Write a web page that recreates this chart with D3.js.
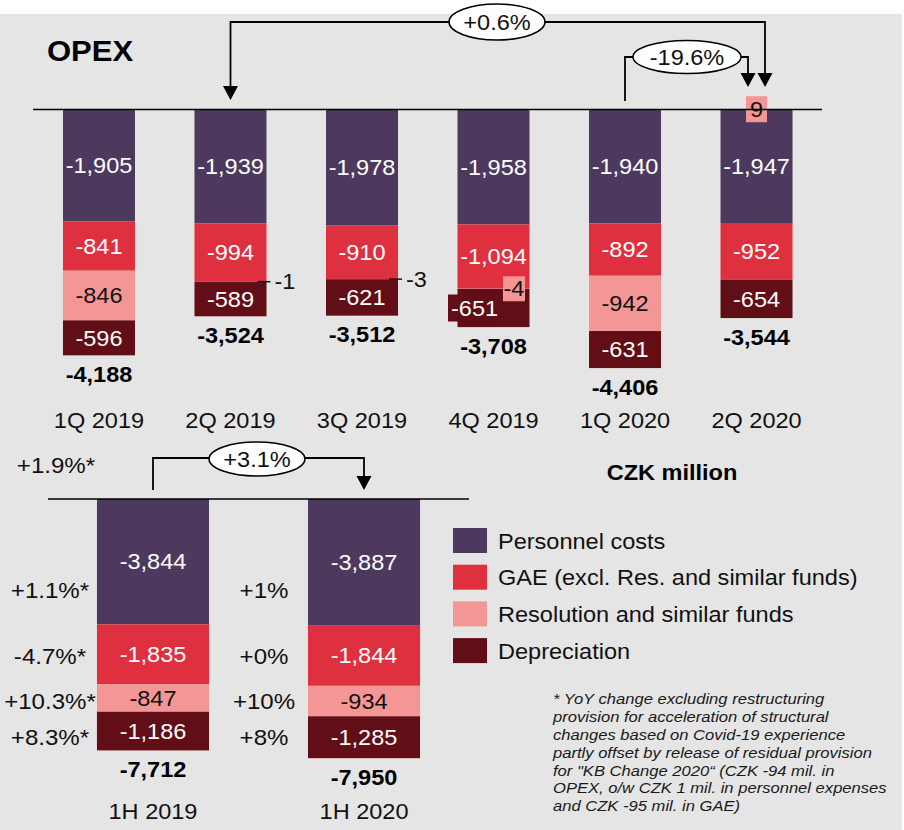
<!DOCTYPE html>
<html>
<head>
<meta charset="utf-8">
<script src="https://cdn.jsdelivr.net/npm/d3@7"></script>
<style>
  html, body { margin: 0; padding: 0; background: #fff; }
  svg { display: block; font-family: "Liberation Sans", Arial, sans-serif; }
</style>
</head>
<body>
<svg id="chart" width="904" height="830"></svg>
<script>
// ---- Quarterly OPEX (CZK million) ----
const quarters       = ["1Q 2019", "2Q 2019", "3Q 2019", "4Q 2019", "1Q 2020", "2Q 2020"];
const personnelQ     = [-1905, -1939, -1978, -1958, -1940, -1947];
const gaeQ           = [-841, -994, -910, -1094, -892, -952];
const resolutionQ    = [-846, -1, -3, -4, -942, 9];
const depreciationQ  = [-596, -589, -621, -651, -631, -654];
const totalsQ        = [-4188, -3524, -3512, -3708, -4406, -3544];

// ---- Half-year OPEX ----
const halves         = ["1H 2019", "1H 2020"];
const personnelH     = [-3844, -3887];
const gaeH           = [-1835, -1844];
const resolutionH    = [-847, -934];
const depreciationH  = [-1186, -1285];
const totalsH        = [-7712, -7950];

// ---- YoY changes ----
const yoyQuarter      = "+0.6%";     // 2Q 2019 -> 2Q 2020
const qoqQuarter      = "-19.6%";    // 1Q 2020 -> 2Q 2020
const yoyHalf         = "+3.1%";
const yoyHalfAdjTotal = "+1.9%*";
const yoyHalfAdj      = ["+1.1%*", "-4.7%*", "+10.3%*", "+8.3%*"];
const yoyHalfSeg      = ["+1%", "+0%", "+10%", "+8%"];

const seriesNames = ["Personnel costs", "GAE (excl. Res. and similar funds)", "Resolution and similar funds", "Depreciation"];
const footnote = [
  "* YoY change excluding restructuring",
  "provision for acceleration of structural",
  "changes based on Covid-19 experience",
  "partly offset by release of residual provision",
  "for \"KB Change 2020\u201C (CZK -94 mil. in",
  "OPEX, o/w CZK 1 mil. in personnel expenses",
  "and CZK -95 mil. in GAE)"
];

// ---- styling ----
const keys = ["personnel", "gae", "resolution", "depreciation"];
const colors = { personnel: "#4d395e", gae: "#df3040", resolution: "#f59696", depreciation: "#610e16" };
const labelColors = { personnel: "#fff", gae: "#fff", resolution: "#111", depreciation: "#fff" };
const SX = 1.07; // slight horizontal text widening
const fmt = d3.formatLocale({ decimal: ".", thousands: ",", grouping: [3], currency: ["", ""], minus: "-" }).format(",");

const svg = d3.select("#chart");
svg.append("rect").attr("x", 0).attr("y", 14).attr("width", 902).attr("height", 816).attr("fill", "#e5e5e5");

function label(g, x, y, str, o = {}) {
  return g.append("text")
    .attr("transform", `translate(${x},${y}) scale(${SX},1)`)
    .attr("dy", "0.35em")
    .attr("text-anchor", o.anchor || "middle")
    .attr("font-size", o.size || 22)
    .attr("font-weight", o.weight || "normal")
    .attr("font-style", o.style || "normal")
    .attr("fill", o.fill || "#111")
    .text(str);
}

function arrowHead(g, x, tipY) {
  g.append("path")
    .attr("d", `M${x - 7.5},${tipY - 14}L${x + 7.5},${tipY - 14}L${x},${tipY}Z`)
    .attr("fill", "#000");
}

function bubble(g, cx, cy, rx, ry, str) {
  g.append("ellipse").attr("cx", cx).attr("cy", cy).attr("rx", rx).attr("ry", ry)
    .attr("fill", "#fff").attr("stroke", "#000").attr("stroke-width", 1.5);
  label(g, cx, cy, str);
}

const stack = d3.stack().keys(keys).offset(d3.stackOffsetDiverging);

// ================= quarterly chart =================
const qRows = quarters.map((c, i) => ({ cat: c, personnel: personnelQ[i], gae: gaeQ[i], resolution: resolutionQ[i], depreciation: depreciationQ[i] }));
const xQ = d3.scaleBand().domain(quarters).range([33, 822.5]).paddingInner(0.4525).paddingOuter(0.228);
const yQ = d3.scaleLinear().domain([0, -4500]).range([109.5, 109.5 + 4500 * 0.0587]);
const gQ = svg.append("g");

label(gQ, 47, 51, "OPEX", { anchor: "start", size: 29, weight: "bold", fill: "#000" });

const qSeries = stack(qRows);
gQ.selectAll("g.series").data(qSeries).join("g").attr("class", "series")
  .attr("fill", s => colors[s.key])
  .selectAll("rect").data(s => s).join("rect")
  .attr("x", d => xQ(d.data.cat))
  .attr("width", xQ.bandwidth())
  .attr("y", d => yQ(Math.max(d[0], d[1])))
  .attr("height", d => Math.abs(yQ(d[0]) - yQ(d[1])));

qSeries.forEach(s => {
  s.forEach((d, i) => {
    const v = d.data[s.key];
    const cx = xQ(d.data.cat) + xQ.bandwidth() / 2;
    const right = xQ(d.data.cat) + xQ.bandwidth();
    const cy = (yQ(d[0]) + yQ(d[1])) / 2;
    if (Math.abs(v) < 20) {
      if (v > 0) {
        // released provision: boxed label on the axis line
        gQ.append("rect").attr("x", cx - 10.5).attr("y", cy - 13).attr("width", 21).attr("height", 26).attr("fill", colors.resolution);
        label(gQ, cx, cy, fmt(v), { fill: "#111" });
      } else if (d.data.cat === "4Q 2019") {
        gQ.append("rect").attr("x", cx + 9.5).attr("y", cy - 12.5).attr("width", 22).attr("height", 25).attr("fill", colors.resolution);
        label(gQ, cx + 20.5, cy, fmt(v), { fill: "#111" });
      } else {
        gQ.append("line").attr("x1", right - 9).attr("x2", right + 4).attr("y1", cy).attr("y2", cy)
          .attr("stroke", "#111").attr("stroke-width", 1.5);
        label(gQ, right + 8, cy, fmt(v), { anchor: "start", fill: "#111" });
      }
    } else if (s.key === "depreciation" && d.data.cat === "4Q 2019") {
      gQ.append("rect").attr("x", cx - 45.5).attr("y", cy - 13.5).attr("width", 52).attr("height", 27).attr("fill", colors.depreciation);
      label(gQ, cx - 19, cy, fmt(v), { fill: "#fff" });
    } else {
      label(gQ, cx, cy, fmt(v), { fill: labelColors[s.key] });
    }
  });
});

// totals and category labels
quarters.forEach((c, i) => {
  const cx = xQ(c) + xQ.bandwidth() / 2;
  const bottom = yQ(d3.sum(keys, k => Math.min(0, qRows[i][k])));
  label(gQ, cx, bottom + 19, fmt(totalsQ[i]), { weight: "bold", fill: "#000" });
  label(gQ, cx, 420, c, { fill: "#111" });
});

gQ.append("line").attr("x1", 33).attr("x2", 822).attr("y1", yQ(0)).attr("y2", yQ(0)).attr("stroke", "#000").attr("stroke-width", 1.5);

// change brackets
{
  const c2q19 = xQ("2Q 2019") + xQ.bandwidth() / 2;
  const c1q20 = xQ("1Q 2020") + xQ.bandwidth() / 2;
  const c2q20 = xQ("2Q 2020") + xQ.bandwidth() / 2;
  const bracket = (pts) => gQ.append("path").attr("d", d3.line()(pts)).attr("fill", "none").attr("stroke", "#000").attr("stroke-width", 1.8);
  bracket([[c2q19, 88], [c2q19, 22], [c2q20 + 8.5, 22], [c2q20 + 8.5, 75]]);
  arrowHead(gQ, c2q19, 100);
  arrowHead(gQ, c2q20 + 8.5, 87);
  bracket([[c1q20, 101], [c1q20, 57], [c2q20 - 8.5, 57], [c2q20 - 8.5, 75]]);
  arrowHead(gQ, c2q20 - 8.5, 87);
  bubble(gQ, 497, 22, 48, 18, yoyQuarter);
  bubble(gQ, 687, 57, 54, 16.5, qoqQuarter);
}

// ================= half-year chart =================
const hRows = halves.map((c, i) => ({ cat: c, personnel: personnelH[i], gae: gaeH[i], resolution: resolutionH[i], depreciation: depreciationH[i] }));
const xH = d3.scaleBand().domain(halves).range([48, 469]).paddingInner(0.469).paddingOuter(0.232);
const yH = d3.scaleLinear().domain([0, -8000]).range([499, 499 + 8000 * 0.0326]);
const gH = svg.append("g");

const hSeries = stack(hRows);
gH.selectAll("g.series").data(hSeries).join("g").attr("class", "series")
  .attr("fill", s => colors[s.key])
  .selectAll("rect").data(s => s).join("rect")
  .attr("x", d => xH(d.data.cat))
  .attr("width", xH.bandwidth())
  .attr("y", d => yH(Math.max(d[0], d[1])))
  .attr("height", d => Math.abs(yH(d[0]) - yH(d[1])));

hSeries.forEach(s => {
  s.forEach(d => {
    const cx = xH(d.data.cat) + xH.bandwidth() / 2;
    const cy = (yH(d[0]) + yH(d[1])) / 2;
    label(gH, cx, cy, fmt(d.data[s.key]), { fill: labelColors[s.key] });
  });
});

halves.forEach((c, i) => {
  const cx = xH(c) + xH.bandwidth() / 2;
  const bottom = yH(d3.sum(keys, k => Math.min(0, hRows[i][k])));
  label(gH, cx, bottom + 19, fmt(totalsH[i]), { weight: "bold", fill: "#000" });
  label(gH, cx, 811, c, { fill: "#111" });
});

// YoY labels per component, aligned with the 1H 2020 segments
hSeries.forEach((s, k) => {
  const d = s[1];
  const cy = (yH(d[0]) + yH(d[1])) / 2 + (k === 0 ? 28 : 0);
  label(gH, 50, cy, yoyHalfAdj[k], { size: 22.5 });
  label(gH, 264, cy, yoyHalfSeg[k], { size: 22.5 });
});
label(gH, 56, 465, yoyHalfAdjTotal, { size: 22.5 });

gH.append("line").attr("x1", 48).attr("x2", 469).attr("y1", yH(0)).attr("y2", yH(0)).attr("stroke", "#000").attr("stroke-width", 1.5);
{
  const c1 = xH("1H 2019") + xH.bandwidth() / 2;
  const c2 = xH("1H 2020") + xH.bandwidth() / 2;
  gH.append("path").attr("d", d3.line()([[c1, 490], [c1, 458], [c2, 458], [c2, 478]]))
    .attr("fill", "none").attr("stroke", "#000").attr("stroke-width", 1.8);
  arrowHead(gH, c2, 490);
  bubble(gH, 257, 459, 48, 17, yoyHalf);
}

// ================= legend, unit, footnote =================
label(svg, 672, 472, "CZK million", { weight: "bold", fill: "#000" });

const legend = svg.append("g");
keys.forEach((k, i) => {
  const y = 528 + i * 36.7;
  legend.append("rect").attr("x", 453).attr("y", y).attr("width", 34).attr("height", 25).attr("fill", colors[k]);
  label(legend, 498, y + 13, seriesNames[i], { anchor: "start", fill: "#111" });
});

footnote.forEach((line, i) => {
  label(svg, 553, 699 + i * 17.8, line, { anchor: "start", size: 15.5, style: "italic", fill: "#1a1a1a" });
});
</script>
</body>
</html>
